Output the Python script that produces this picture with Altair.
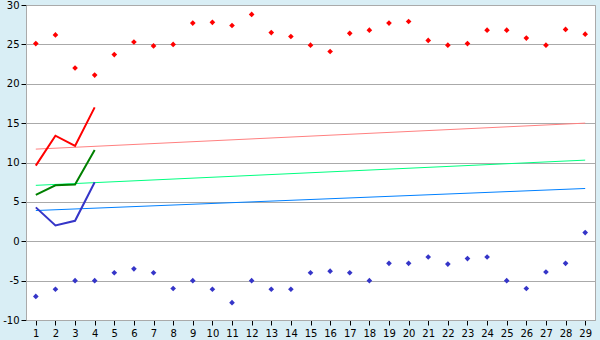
import altair as alt
import pandas as pd

days = list(range(1, 30))
red_points = [25.1, 26.2, 22.0, 21.1, 23.7, 25.3, 24.8, 25.0, 27.7, 27.8,
              27.4, 28.8, 26.5, 26.0, 24.9, 24.1, 26.4, 26.8, 27.7, 27.9,
              25.5, 24.9, 25.1, 26.8, 26.8, 25.8, 24.9, 26.9, 26.3]
blue_points = [-7.0, -6.1, -5.0, -5.0, -4.0, -3.5, -4.0, -6.0, -5.0, -6.1,
               -7.8, -5.0, -6.1, -6.1, -4.0, -3.8, -4.0, -5.0, -2.8, -2.8,
               -2.0, -2.9, -2.2, -2.0, -5.0, -6.0, -3.9, -2.8, 1.1]
line_days = [1, 2, 3, 4]
red_line = [9.6, 13.4, 12.1, 17.0]
green_line = [5.9, 7.1, 7.2, 11.6]
blue_line = [4.3, 2.0, 2.6, 7.5]
trend_days = [1, 29]
red_trend = [11.7, 15.0]
green_trend = [7.1, 10.3]
blue_trend = [3.9, 6.7]

pts = pd.DataFrame({"day": days * 2,
                    "value": red_points + blue_points,
                    "series": ["max"] * 29 + ["min"] * 29})
lines = pd.DataFrame({"day": line_days * 3,
                      "value": red_line + green_line + blue_line,
                      "series": ["l_red"] * 4 + ["l_green"] * 4 + ["l_blue"] * 4})
trends = pd.DataFrame({"day": trend_days * 3,
                       "value": red_trend + green_trend + blue_trend,
                       "series": ["t_red"] * 2 + ["t_green"] * 2 + ["t_blue"] * 2})

dom = ["max", "min", "l_red", "l_green", "l_blue", "t_red", "t_green", "t_blue"]
rng = ["#ff0000", "#3535c8", "#ff0000", "#008000", "#3535c8", "#ff8080", "#00ff80", "#0080ff"]
color = alt.Color("series:N", scale=alt.Scale(domain=dom, range=rng), legend=None)

x = alt.X("day:Q", scale=alt.Scale(domain=[0.5, 29.5], nice=False, zero=False),
          axis=alt.Axis(values=days, title=None, grid=False, format="d",
                        tickSize=5, tickColor="#000000", labelPadding=3))
y = alt.Y("value:Q", scale=alt.Scale(domain=[-10, 30], nice=False),
          axis=alt.Axis(values=[-10, -5, 0, 5, 10, 15, 20, 25, 30], title=None,
                        grid=True, gridColor="#aaaaaa", tickSize=5,
                        tickColor="#000000", labelPadding=2,
                        labelExpr="toString(datum.value)"))

trend_layer = alt.Chart(trends).mark_line(strokeWidth=1).encode(
    x=x, y=y, color=color, detail="series:N")
line_layer = alt.Chart(lines).mark_line(strokeWidth=2).encode(
    x=x, y=y, color=color, detail="series:N")
pt_layer = alt.Chart(pts).mark_point(shape="diamond", filled=True, size=32, opacity=1).encode(
    x=x, y=y, color=color)

chart = alt.layer(trend_layer, line_layer, pt_layer).properties(
    width=569, height=315,
    autosize=alt.AutoSizeParams(type="none"),
    padding={"left": 26, "top": 5, "right": 5, "bottom": 20},
    background="#d9eef5",
).configure_view(
    stroke="#aaaaaa", fill="#ffffff"
).configure_axis(
    labelFont="DejaVu Sans", labelFontSize=10, labelColor="#000000",
    domainColor="#aaaaaa"
)

chart.save("out.html", embed_options={"renderer": "svg", "actions": False})
